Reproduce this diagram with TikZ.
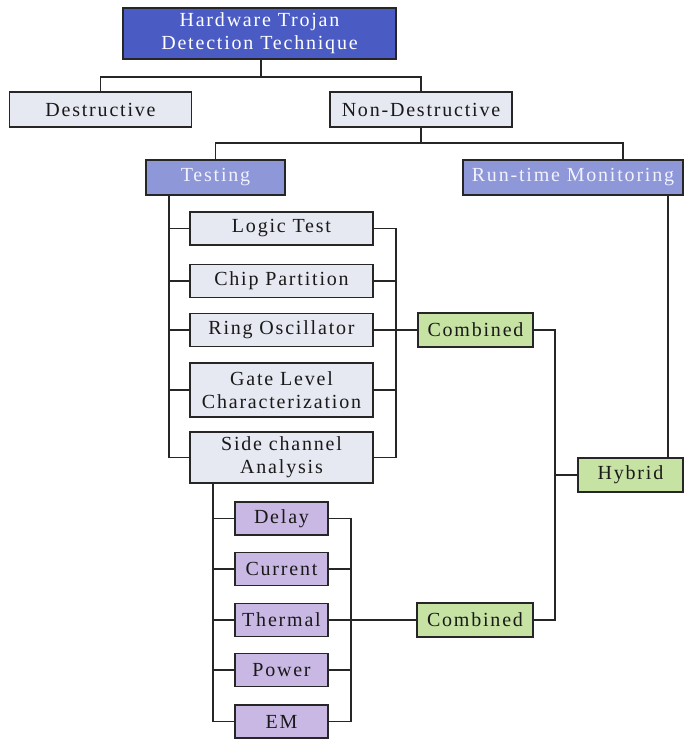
\documentclass[tikz,border=0pt]{standalone}
\usepackage{fontspec}
\setmainfont{Liberation Serif}
\usetikzlibrary{calc}

\definecolor{rootblue}{HTML}{4A5BC4}
\definecolor{subblue}{HTML}{8E97D8}
\definecolor{lightbox}{HTML}{E6E8F2}
\definecolor{sidepurple}{HTML}{C9B8E3}
\definecolor{mixgreen}{HTML}{C6E3A4}

\begin{document}
\begin{tikzpicture}[
    x=1pt, y=-1pt,
    box/.style={draw=black!85, line width=1.3pt, inner sep=1pt, align=center, text=black!90,
        font=\fontsize{20}{23}\selectfont\addfontfeature{LetterSpace=9}},
    rootbox/.style={box, fill=rootblue, text=white, minimum width=273pt, minimum height=51pt},
    catbox/.style={box, fill=lightbox, minimum width=182pt, minimum height=35pt},
    subbox/.style={box, fill=subblue, text=white!95!blue, minimum height=35pt},
    testbox/.style={box, fill=lightbox, minimum width=183pt, minimum height=33pt},
    sidebox/.style={box, fill=sidepurple, minimum width=93pt, minimum height=33pt},
    mixbox/.style={box, fill=mixgreen, minimum height=34pt},
    wire/.style={draw=black!85, line width=1.3pt}
]
\useasboundingbox (0,0) rectangle (684,740);

% ===== TOP LEVELS =====
\node[rootbox] (root) at (259.5,33.5) {Hardware Trojan\\Detection Technique};
\node[catbox] (destr) at (100.5,109.5) {Destructive};
\node[catbox] (nondes) at (421,109.5) {Non-Destructive};

\coordinate (j1) at (261,77);
\draw[wire] (root.south -| j1) -- (j1);
\draw[wire] (destr.north) |- (j1) -| (nondes.north);

% Testing and run-time branches
\node[subbox, minimum width=139pt] (testing) at (215.5,177.5) {Testing};
\node[subbox, minimum width=220pt] (runtime) at (573,177.5) {Run-time Monitoring};

\coordinate (j2) at (421,143);
\coordinate (rtx) at (623,0);
\draw[wire] (nondes.south) -- (j2);
\draw[wire] (testing.north) |- (j2) -| (runtime.north -| rtx);

% ===== TESTING METHODS =====
\node[testbox] (logic) at (281.5,228.5) {Logic Test};
\node[testbox] (chip) at (281.5,281) {Chip Partition};
\node[testbox] (ring) at (281.5,330) {Ring Oscillator};
\node[testbox, minimum height=54pt] (gate) at (281.5,390) {Gate Level\\Characterization};
\node[testbox, minimum height=51pt] (sidech) at (281.5,457.5) {Side channel\\Analysis};

\coordinate (tbus) at (169,0);
\coordinate (rbus) at (396,0);
\draw[wire] (testing.south -| tbus) |- (sidech.west);
\draw[wire] (logic.east) -| (rbus |- sidech.east) -- (sidech.east);
\foreach \n in {logic,chip,ring,gate} {
    \draw[wire] (\n.west) -- (\n.west -| tbus);
}
\draw[wire] (chip.east) -- (chip.east -| rbus);
\draw[wire] (gate.east) -- (gate.east -| rbus);

% ===== SIDE CHANNEL PARAMETERS =====
\node[sidebox] (delay) at (281.5,518.5) {Delay};
\node[sidebox] (current) at (281.5,569) {Current};
\node[sidebox] (thermal) at (281.5,620) {Thermal};
\node[sidebox] (power) at (281.5,670) {Power};
\node[sidebox] (em) at (281.5,721.5) {EM};

\coordinate (sbus) at (213,0);
\coordinate (pbus) at (351,0);
\draw[wire] (sidech.south -| sbus) |- (em.west);
\foreach \n in {delay,current,thermal,power} {
    \draw[wire] (\n.west) -- (\n.west -| sbus);
}
\draw[wire] (delay.east) -| (pbus |- em.east) -- (em.east);
\draw[wire] (current.east) -- (current.east -| pbus);
\draw[wire] (power.east) -- (power.east -| pbus);

% ===== COMBINED / HYBRID =====
\node[mixbox, minimum width=115pt] (comb1) at (475.5,330) {Combined};
\node[mixbox, minimum width=116pt] (comb2) at (475,620) {Combined};
\node[mixbox, minimum width=105pt] (hybrid) at (630.5,475) {Hybrid};

\draw[wire] (ring.east) -- (comb1.west);
\draw[wire] (thermal.east) -- (comb2.west);

\coordinate (hbus) at (555,0);
\coordinate (hrx) at (668,0);
\draw[wire] (comb1.east) -| (hbus |- comb2.east) -- (comb2.east);
\draw[wire] (hybrid.west) -- (hybrid.west -| hbus);
\draw[wire] (runtime.south -| hrx) -- (hybrid.north -| hrx);

\end{tikzpicture}
\end{document}
